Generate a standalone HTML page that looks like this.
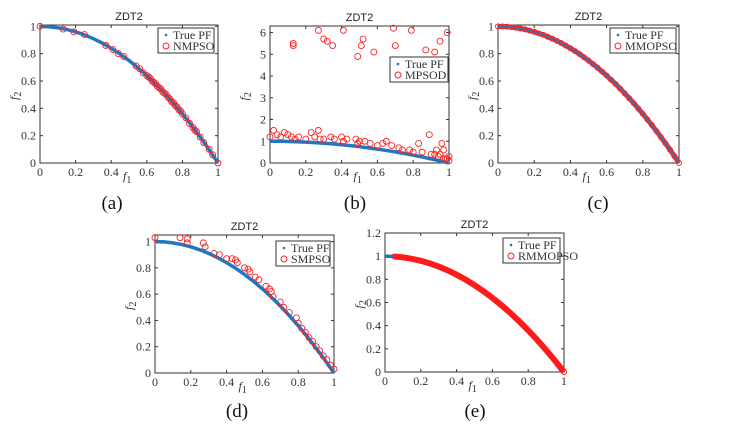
<!DOCTYPE html>
<html><head><meta charset="utf-8">
<style>
body{margin:0;background:#fff;width:741px;height:432px;overflow:hidden}
svg{display:block}
.t{font-family:"Liberation Serif",serif;font-size:12px;fill:#333}
.ti{font-family:"Liberation Sans",sans-serif;font-size:11px;fill:#222}
.cap{font-family:"Liberation Serif",serif;font-size:19px;fill:#111}
</style></head>
<body>
<svg id="fig" width="741" height="432"></svg>
<script>
const pfX=[0,0.05,0.1,0.15,0.2,0.25,0.3,0.35,0.4,0.45,0.5,0.55,0.6,0.65,0.7,0.75,0.8,0.85,0.9,0.95,1];
const pfY=[1,0.9975,0.99,0.9775,0.96,0.9375,0.91,0.8775,0.84,0.7975,0.75,0.6975,0.64,0.5775,0.51,0.4375,0.36,0.2775,0.19,0.0975,0];
const nmX=[0,0.13,0.19,0.25,0.37,0.41,0.44,0.47,0.54,0.56,0.58,0.6,0.61,0.62,0.63,0.64,0.65,0.66,0.67,0.68,0.69,0.7,0.71,0.72,0.73,0.74,0.75,0.76,0.77,0.78,0.79,0.8,0.82,0.84,0.86,0.87,0.88,0.9,0.92,0.95,0.97,1];
const nmY=[1,0.98,0.96,0.94,0.86,0.83,0.8,0.78,0.71,0.69,0.66,0.64,0.63,0.62,0.6,0.59,0.58,0.56,0.55,0.54,0.52,0.51,0.5,0.48,0.47,0.45,0.44,0.42,0.41,0.39,0.38,0.36,0.33,0.29,0.26,0.24,0.23,0.19,0.15,0.1,0.06,0];
const mpX=[0.13,0.13,0.27,0.3,0.32,0.35,0.41,0.49,0.51,0.52,0.58,0.69,0.7,0.79,0.87,0.92,0.95,0.99,0,0.02,0.04,0.06,0.08,0.1,0.12,0.14,0.16,0.2,0.23,0.25,0.27,0.28,0.3,0.34,0.36,0.4,0.41,0.43,0.48,0.49,0.5,0.53,0.56,0.6,0.63,0.65,0.68,0.72,0.74,0.78,0.8,0.83,0.85,0.89,0.9,0.92,0.94,0.96,0.97,0.98,0.99,1,1,0.95,0.93,0.97];
const mpY=[5.5,5.4,6.1,5.7,5.6,5.4,6.1,4.9,5.4,5.7,5.1,6.2,5.4,6.1,5.2,5.1,5.6,6,1.2,1.5,1.3,1.2,1.4,1.3,1.2,1.1,1.2,1.1,1.4,1.2,1.5,1.1,1.1,1.2,1.1,1.2,1.0,1.1,1.1,0.9,1.0,1.0,0.9,0.8,0.9,1.0,0.8,0.7,0.6,0.6,0.5,0.9,0.5,1.3,0.4,0.4,0.3,0.9,0.6,0.2,0.2,0.1,0.3,0.4,0.6,0.2];
const smX=[0,0.14,0.18,0.18,0.27,0.28,0.33,0.36,0.4,0.43,0.45,0.46,0.5,0.52,0.53,0.56,0.58,0.62,0.64,0.65,0.66,0.7,0.72,0.75,0.79,0.8,0.82,0.84,0.86,0.88,0.9,0.92,0.94,0.96,0.98,1];
const smY=[1.03,1.03,1.02,0.99,0.99,0.96,0.91,0.9,0.87,0.87,0.86,0.84,0.8,0.79,0.77,0.73,0.71,0.66,0.64,0.62,0.58,0.54,0.5,0.46,0.42,0.38,0.34,0.31,0.27,0.24,0.2,0.17,0.13,0.1,0.06,0.03];
const mmX=[0,0.025,0.05,0.075,0.1,0.125,0.15,0.175,0.2,0.225,0.25,0.275,0.3,0.325,0.35,0.375,0.4,0.425,0.45,0.475,0.5,0.525,0.55,0.575,0.6,0.625,0.65,0.675,0.7,0.725,0.75,0.775,0.8,0.825,0.85,0.875,0.9,0.925,0.95,0.975,1];
const mmY=[1,0.999,0.998,0.994,0.99,0.984,0.978,0.969,0.96,0.949,0.938,0.924,0.91,0.894,0.878,0.859,0.84,0.819,0.798,0.774,0.75,0.724,0.698,0.669,0.64,0.609,0.578,0.544,0.51,0.474,0.438,0.399,0.36,0.319,0.278,0.234,0.19,0.144,0.098,0.049,0];
const rmX=[0.05,0.1,0.15,0.2,0.25,0.3,0.35,0.4,0.45,0.5,0.55,0.6,0.65,0.7,0.75,0.8,0.85,0.9,0.95,1];
const rmY=[0.9975,0.99,0.9775,0.96,0.9375,0.91,0.8775,0.84,0.7975,0.75,0.6975,0.64,0.5775,0.51,0.4375,0.36,0.2775,0.19,0.0975,0];
const xTicks=[0,0.2,0.4,0.6,0.8,1];
const xTickLabels=["0","0.2","0.4","0.6","0.8","1"];
const yTicksA=[0,0.2,0.4,0.6,0.8,1];
const yTickLabelsA=["0","0.2","0.4","0.6","0.8","1"];
const yTicksB=[0,1,2,3,4,5,6];
const yTickLabelsB=["0","1","2","3","4","5","6"];
const yTicksE=[0,0.2,0.4,0.6,0.8,1,1.2];
const yTickLabelsE=["0","0.2","0.4","0.6","0.8","1","1.2"];

const NS="http://www.w3.org/2000/svg";
const fig=document.getElementById('fig');
function mk(tag,attrs,parent){const e=document.createElementNS(NS,tag);for(const k in attrs)e.setAttribute(k,attrs[k]);(parent||fig).appendChild(e);return e;}

function plot(c){
  const g=mk('g',{});
  
  
  const sx=v=>c.x0+(c.x1-c.x0)*v;
  const sy=v=>c.yb-(c.yb-c.yt)*v/c.ymax;
  const bg=mk('rect',{x:c.x0,y:c.yt,width:c.x1-c.x0,height:c.yb-c.yt,fill:'#fff',stroke:'#333','stroke-width':1},g);
  
  
  xTicks.forEach((v,i)=>{
    mk('line',{x1:sx(v),x2:sx(v),y1:c.yb,y2:c.yb-3,stroke:'#333'},g);
    mk('line',{x1:sx(v),x2:sx(v),y1:c.yt,y2:c.yt+3,stroke:'#333'},g);
    const t=mk('text',{x:sx(v),y:c.yb+13,'text-anchor':'middle',class:'t'},g);t.textContent=xTickLabels[i];
    
    
  });
  c.yt_.forEach((v,i)=>{
    mk('line',{x1:c.x0,x2:c.x0+3,y1:sy(v),y2:sy(v),stroke:'#333'},g);
    mk('line',{x1:c.x1,x2:c.x1-3,y1:sy(v),y2:sy(v),stroke:'#333'},g);
    const t=mk('text',{x:c.x0-4,y:sy(v)+4,'text-anchor':'end',class:'t'},g);t.textContent=c.yl[i];
    
    
  });
  const ti=mk('text',{x:(c.x0+c.x1)/2,y:c.yt-5,'text-anchor':'middle',class:'ti'},g);ti.textContent='ZDT2';
  
  
  const xl=mk('text',{x:sx(0.5)-6,y:c.yb+17,class:'t','font-style':'italic','font-size':'14'},g);xl.innerHTML='f<tspan font-size="10" dy="3" font-style="normal">1</tspan>';
  
  
  const yx=c.x0-22,yy=(c.yt+c.yb)/2+6;
  const yl=mk('text',{x:yx,y:yy,class:'t','font-style':'italic','font-size':'14',transform:`rotate(-90 ${yx} ${yy})`},g);yl.innerHTML='f<tspan font-size="10" dy="3" font-style="normal">2</tspan>';
  
  
  const pts=pfX.map((v,i)=>sx(v)+','+sy(pfY[i])).join(' ');
  const drawPF=(w)=>{const pf=mk('polyline',{points:pts,fill:'none',stroke:'#1f77c4','stroke-width':w},g);
    
    };
  if(c.mode!=='mixed')drawPF(3.5);
  if(c.mode==='dense'){
    const p2=c.sX.map((v,i)=>sx(v)+','+sy(c.sY[i])).join(' ');
    const d=mk('polyline',{points:p2,fill:'none',stroke:'#ff1a1a','stroke-width':6},g);
    
    
  }
  if(c.mode==='mixed'){
    const p2=c.sX.map((v,i)=>sx(v)+','+sy(c.sY[i])).join(' ');
    const d=mk('polyline',{points:p2,fill:'none',stroke:'#f03030','stroke-width':5},g);
    
    
  }
  c.sX.forEach((v,i)=>{
    const m=mk('circle',{cx:sx(v),cy:sy(c.sY[i]),r:c.mode?2.5:3,fill:'none',stroke:'#ff2020','stroke-width':0.9},g);
    
    
  });
  if(c.mode==='mixed')drawPF(1.5);
  const L=c.leg;
  const lg=mk('g',{},g);
  
  
  mk('rect',{x:L[0],y:L[1],width:L[2],height:25,fill:'#fff',stroke:'#333'},lg);
  mk('circle',{cx:L[0]+8,cy:L[1]+7,r:1.3,fill:'#1f77c4'},lg);
  const t1=mk('text',{x:L[0]+15,y:L[1]+11,class:'t'},lg);t1.textContent='True PF';
  
  
  mk('circle',{cx:L[0]+8,cy:L[1]+18,r:3,fill:'none',stroke:'#ff2020'},lg);
  const t2=mk('text',{x:L[0]+15,y:L[1]+22,class:'t'},lg);t2.textContent=c.alg;
  
  
  const cap=mk('text',{x:c.cap[0],y:c.cap[1],'text-anchor':'middle',class:'cap'},g);cap.textContent=c.capT;
  
  
}
plot({name:'chart-a-nmpso',x0:40,x1:218,yt:25,yb:163,ymax:1.01,yt_:yTicksA,yl:yTickLabelsA,sX:nmX,sY:nmY,alg:'NMPSO',leg:[158,28,56],cap:[112,209],capT:'(a)'});
plot({name:'chart-b-mpsod',x0:270,x1:449,yt:26,yb:163,ymax:6.3,yt_:yTicksB,yl:yTickLabelsB,sX:mpX,sY:mpY,alg:'MPSOD',leg:[390,57,58],cap:[355,209],capT:'(b)'});
plot({name:'chart-c-mmopso',x0:498,x1:679,yt:25,yb:163,ymax:1.01,yt_:yTicksA,yl:yTickLabelsA,sX:mmX,sY:mmY,mode:'mixed',alg:'MMOPSO',leg:[610,28,66],cap:[598,209],capT:'(c)'});
plot({name:'chart-d-smpso',x0:155,x1:334,yt:235,yb:373,ymax:1.05,yt_:yTicksA,yl:yTickLabelsA,sX:smX,sY:smY,alg:'SMPSO',leg:[276,241,54],cap:[237,417],capT:'(d)'});
plot({name:'chart-e-rmmopso',x0:385,x1:564,yt:233,yb:372,ymax:1.2,yt_:yTicksE,yl:yTickLabelsE,sX:rmX,sY:rmY,mode:'dense',alg:'RMMOPSO',leg:[503,238,57],cap:[475,417],capT:'(e)'});
</script>
</body></html>
